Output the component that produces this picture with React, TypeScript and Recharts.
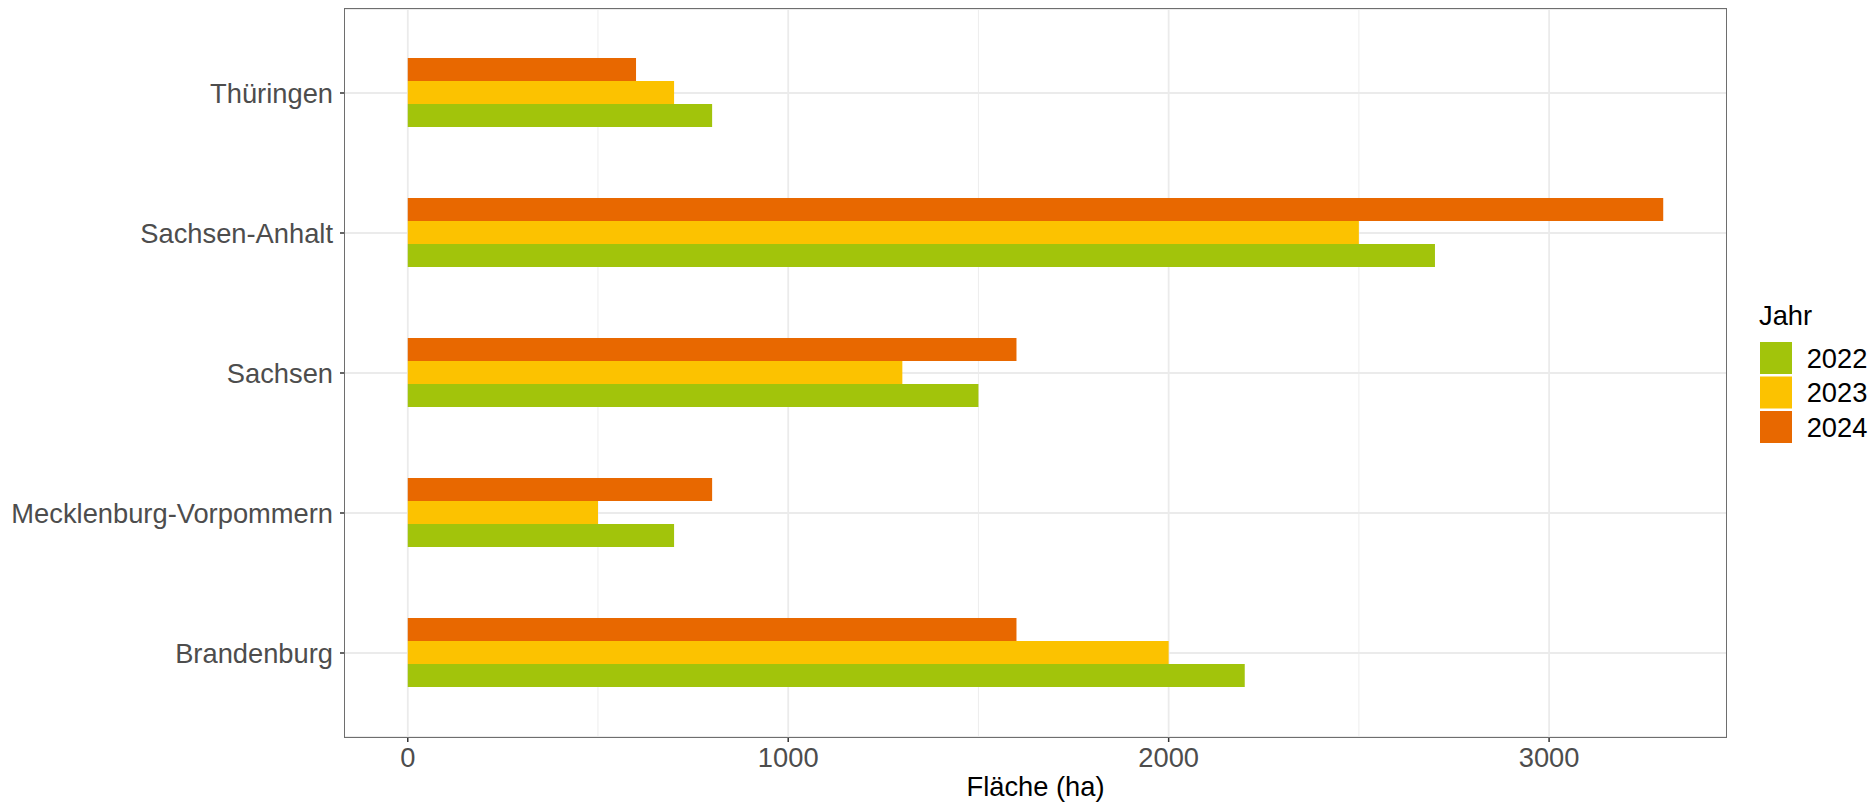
import React from 'react';
import { BarChart, Bar, XAxis, YAxis, CartesianGrid } from 'recharts';

const categories = ['Thüringen', 'Sachsen-Anhalt', 'Sachsen', 'Mecklenburg-Vorpommern', 'Brandenburg'];
const values2022 = [800, 2700, 1500, 700, 2200];
const values2023 = [700, 2500, 1300, 500, 2000];
const values2024 = [600, 3300, 1600, 800, 1600];
const years = ['2022', '2023', '2024'];
const colors = ['#A2C40B', '#FCC200', '#E86800'];
const xTicks = [0, 1000, 2000, 3000];
const xMinor = [500, 1500, 2500];
const xDomain: [number, number] = [-165, 3465];
const xTitle = 'Fläche (ha)';
const legendTitle = 'Jahr';

const data = categories.map((name, i) => ({
  name,
  y2022: values2022[i],
  y2023: values2023[i],
  y2024: values2024[i],
}));

const FONT = '"Liberation Sans", Arial, sans-serif';
const FS = 27.3;

const PLOT = { left: 345, top: 9, right: 1726, bottom: 737 };

export default function App() {
  return (
    <div style={{ position: 'absolute', left: 0, top: 0, width: 1872, height: 805, background: '#fff', fontFamily: FONT }}>
      <BarChart
        width={1872}
        height={805}
        data={data}
        layout="vertical"
        margin={{ top: PLOT.top, right: 1872 - PLOT.right, bottom: 0, left: 0 }}
        barCategoryGap="25%"
        barGap={0}
      >
        <CartesianGrid
          horizontal={false}
          vertical
          verticalValues={xMinor}
          stroke="#EBEBEB"
          strokeWidth={0.9}
        />
        <CartesianGrid
          horizontal
          vertical
          verticalValues={xTicks}
          stroke="#EBEBEB"
          strokeWidth={1.8}
        />
        <XAxis
          type="number"
          domain={xDomain}
          ticks={xTicks}
          allowDataOverflow
          axisLine={false}
          tickSize={5}
          tickMargin={6}
          tickLine={{ stroke: '#333', strokeWidth: 1.5 }}
          tick={{ fill: '#4D4D4D', fontSize: FS, fontFamily: FONT }}
          height={805 - PLOT.bottom}
          label={{ value: xTitle, position: 'insideBottom', offset: 9, fill: '#000', fontSize: FS, fontFamily: FONT }}
        />
        <YAxis
          type="category"
          dataKey="name"
          width={PLOT.left}
          interval={0}
          axisLine={false}
          tickSize={5}
          tickMargin={7}
          padding={{ top: 14, bottom: 14 }}
          tickLine={{ stroke: '#333', strokeWidth: 1.5 }}
          tick={{ fill: '#4D4D4D', fontSize: FS, fontFamily: FONT }}
        />
        <Bar dataKey="y2024" name={years[2]} fill={colors[2]} isAnimationActive={false} />
        <Bar dataKey="y2023" name={years[1]} fill={colors[1]} isAnimationActive={false} />
        <Bar dataKey="y2022" name={years[0]} fill={colors[0]} isAnimationActive={false} />
      </BarChart>
      <div
        style={{
          position: 'absolute',
          left: PLOT.left - 0.8,
          top: PLOT.top - 0.8,
          width: PLOT.right - PLOT.left + 1.6,
          height: PLOT.bottom - PLOT.top + 1.6,
          border: '1.6px solid #6E6E6E',
          boxSizing: 'border-box',
          pointerEvents: 'none',
        }}
      />
      <svg
        width={122}
        height={170}
        style={{ position: 'absolute', left: 1750, top: 290 }}
      >
        <text x={9} y={35} fontSize={FS} fontFamily={FONT} fill="#000">{legendTitle}</text>
        {years.map((y, i) => (
          <g key={y}>
            <rect x={10} y={52 + i * 34.5} width={32} height={32} fill={colors[i]} />
            <text x={56.7} y={52 + i * 34.5 + 16 + 9.5} fontSize={FS} fontFamily={FONT} fill="#000">{y}</text>
          </g>
        ))}
      </svg>
    </div>
  );
}
